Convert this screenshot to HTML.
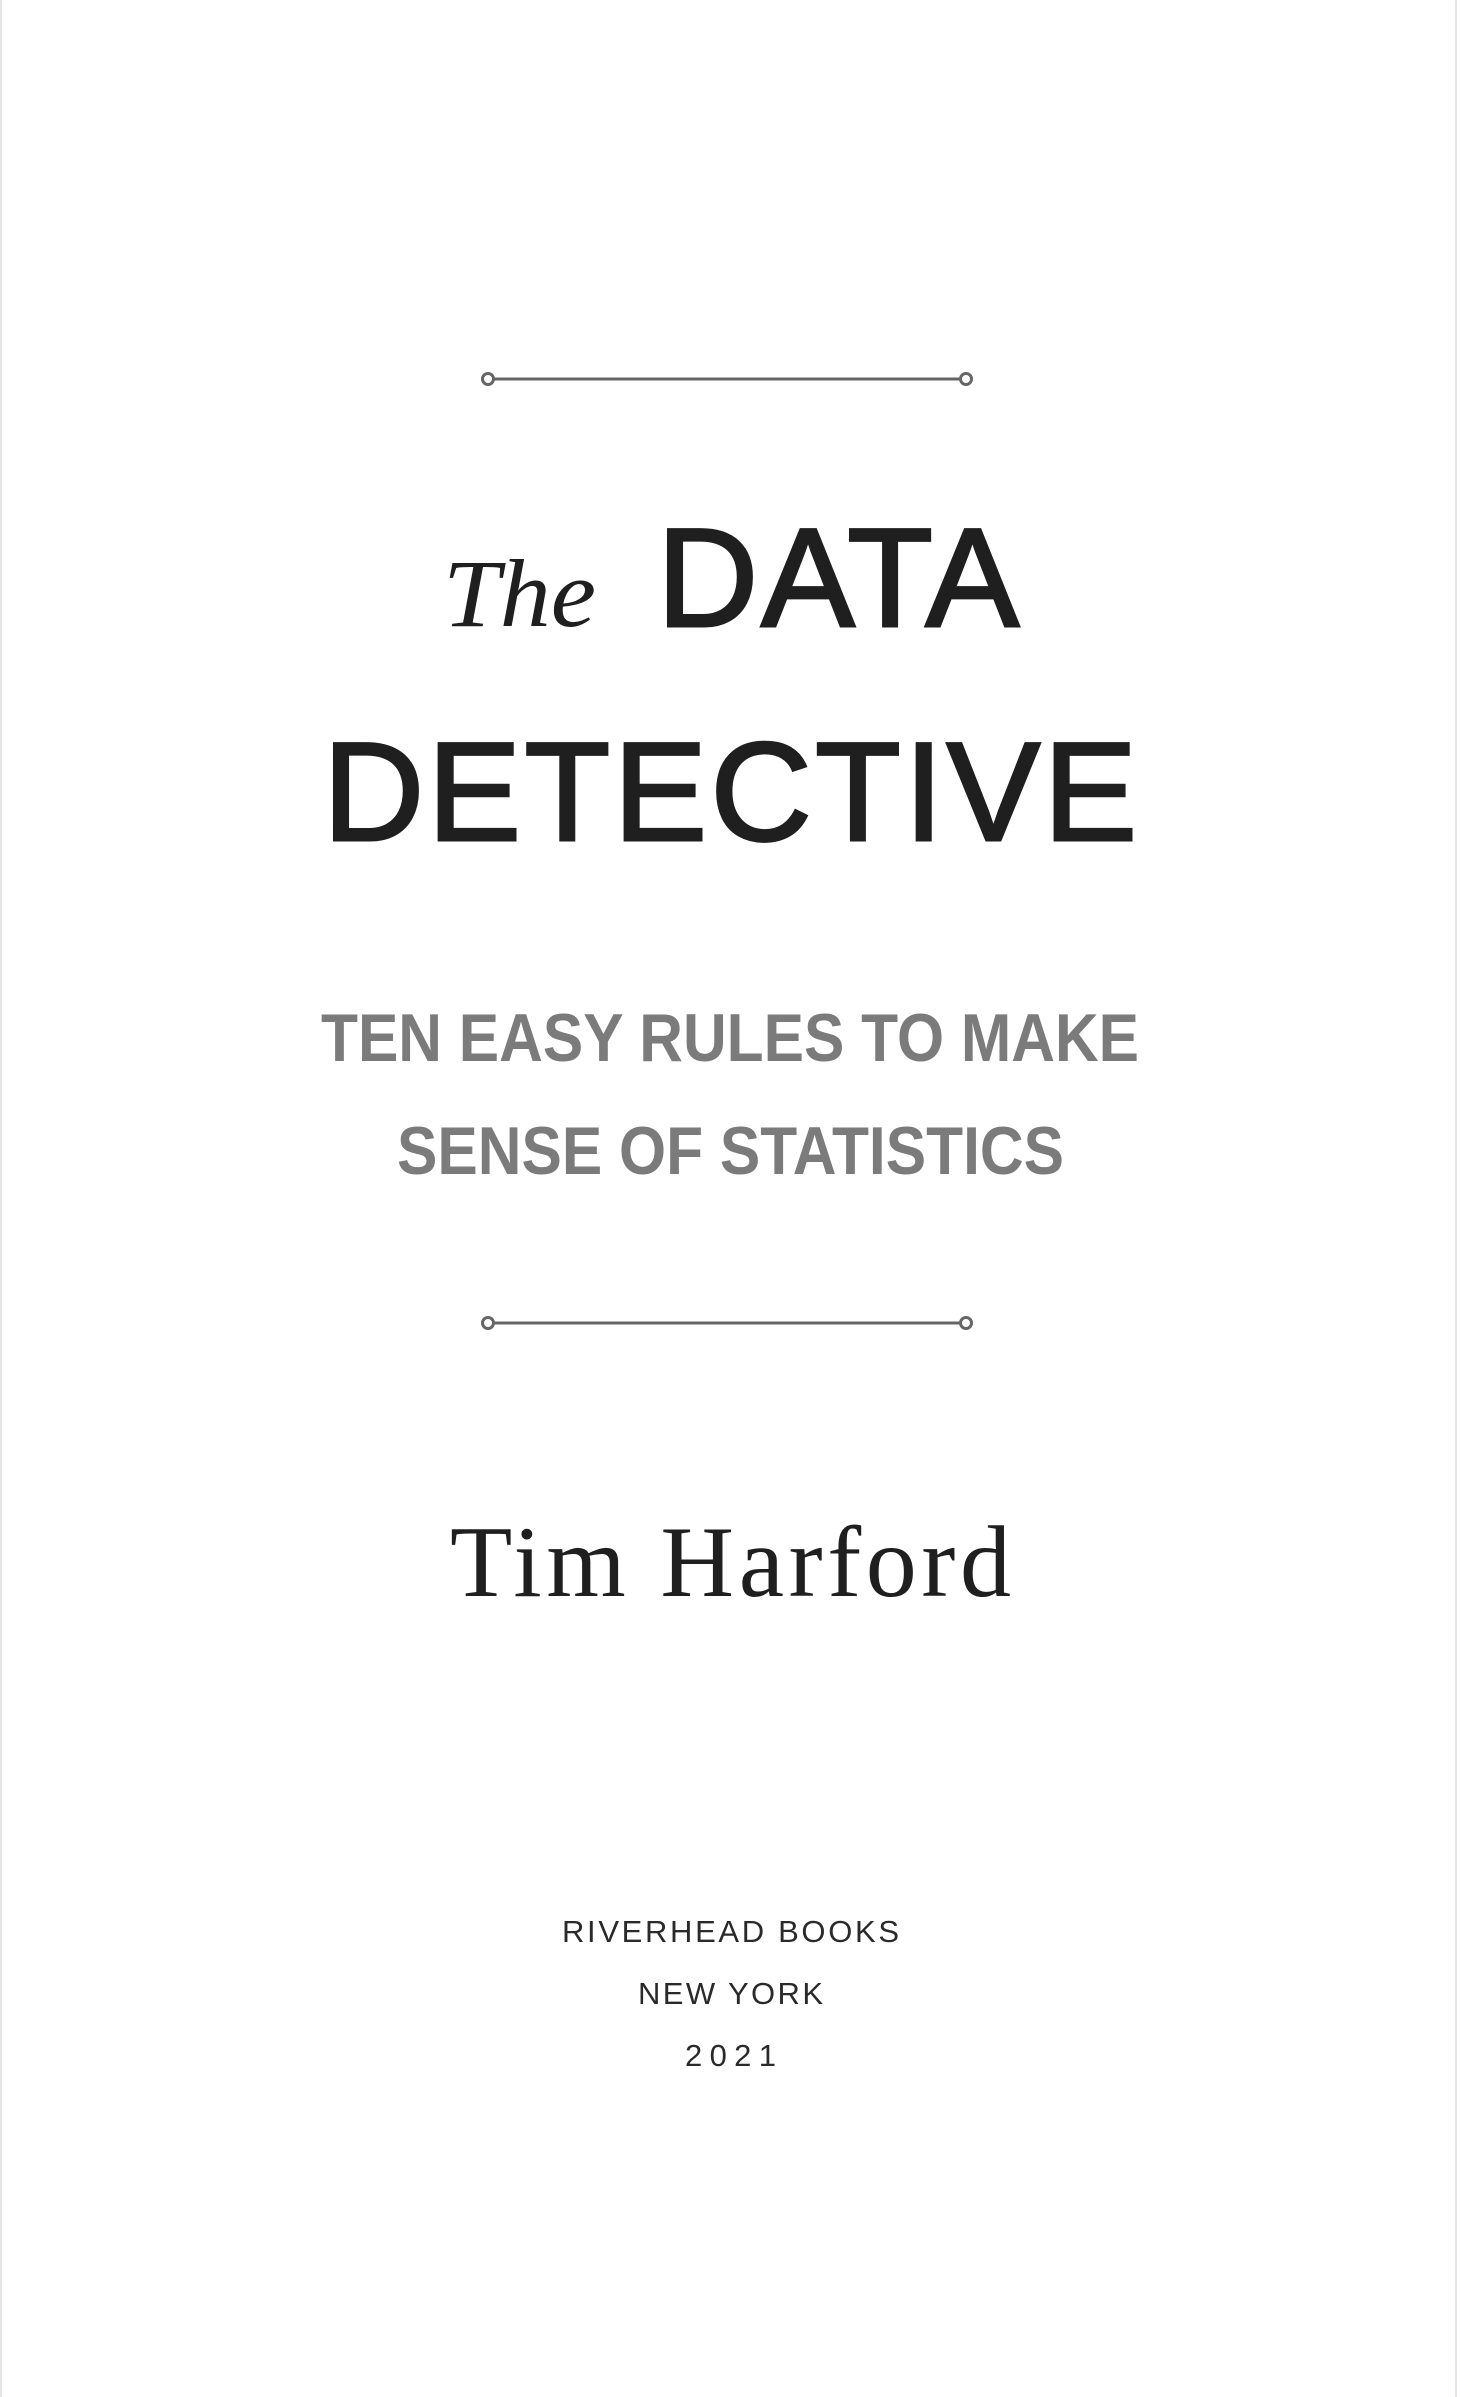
<!DOCTYPE html>
<html>
<head>
<meta charset="utf-8">
<style>
  html,body{margin:0;padding:0;background:#fff;}
  body{width:1460px;height:2397px;overflow:hidden;}
  svg{display:block;}
</style>
</head>
<body>
<svg width="1460" height="2397" viewBox="0 0 1460 2397" xmlns="http://www.w3.org/2000/svg">
  <rect x="0" y="0" width="1460" height="2397" fill="#fff"/>
  <line x1="1" y1="0" x2="1" y2="2397" stroke="#e6e6e6" stroke-width="2"/>
  <line x1="1456" y1="0" x2="1456" y2="2397" stroke="#e6e6e6" stroke-width="2"/>

  <g stroke="#666" stroke-width="3" fill="#fff">
    <line x1="493" y1="379" x2="961" y2="379"/>
    <circle cx="488" cy="379" r="5.5"/>
    <circle cx="966" cy="379" r="5.5"/>
  </g>

  <text x="443" y="626" textLength="153" lengthAdjust="spacingAndGlyphs" font-family="Liberation Serif, serif" font-style="italic" font-size="96" fill="#1f1f1f">The</text>
  <text x="657" y="626" textLength="362" lengthAdjust="spacing" font-family="Liberation Sans, sans-serif" font-size="140" fill="#1f1f1f" stroke="#1f1f1f" stroke-width="3">DATA</text>
  <text x="323" y="840" textLength="814" lengthAdjust="spacing" font-family="Liberation Sans, sans-serif" font-size="140" fill="#1f1f1f" stroke="#1f1f1f" stroke-width="3">DETECTIVE</text>

  <text x="321" y="1061" textLength="818" lengthAdjust="spacingAndGlyphs" font-family="Liberation Sans, sans-serif" font-weight="bold" font-size="68" fill="#7b7b7b">TEN EASY RULES TO MAKE</text>
  <text x="397" y="1174" textLength="667" lengthAdjust="spacingAndGlyphs" font-family="Liberation Sans, sans-serif" font-weight="bold" font-size="68" fill="#7b7b7b">SENSE OF STATISTICS</text>

  <g stroke="#666" stroke-width="3" fill="#fff">
    <line x1="493" y1="1323" x2="961" y2="1323"/>
    <circle cx="488" cy="1323" r="5.5"/>
    <circle cx="966" cy="1323" r="5.5"/>
  </g>

  <text x="450" y="1596" textLength="561" lengthAdjust="spacing" font-family="Liberation Serif, serif" font-size="102" fill="#1f1f1f">Tim Harford</text>

  <text x="562" y="1942" textLength="337" lengthAdjust="spacing" font-family="Liberation Sans, sans-serif" font-size="31" fill="#2a2a2a">RIVERHEAD BOOKS</text>
  <text x="638" y="2004" textLength="185" lengthAdjust="spacing" font-family="Liberation Sans, sans-serif" font-size="31" fill="#2a2a2a">NEW YORK</text>
  <text x="685" y="2066" textLength="91" lengthAdjust="spacing" font-family="Liberation Sans, sans-serif" font-size="31" fill="#2a2a2a">2021</text>
</svg>
</body>
</html>
